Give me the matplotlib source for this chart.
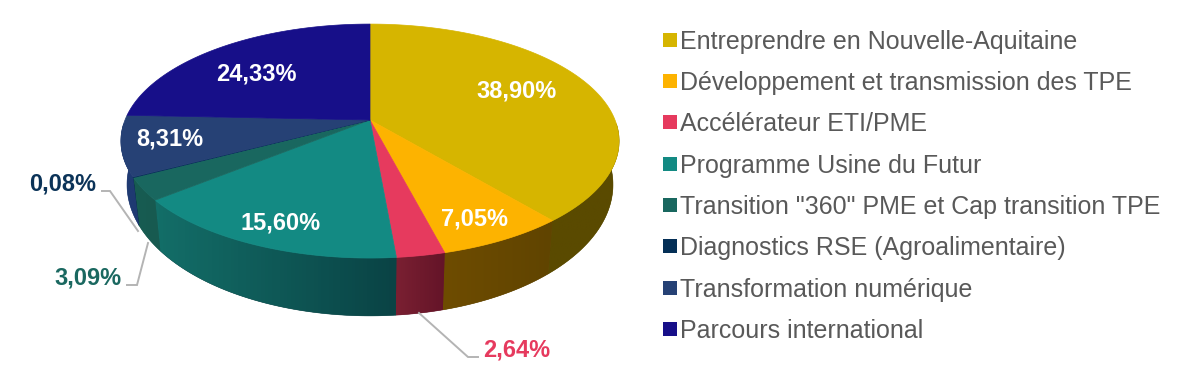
import numpy as np
import matplotlib
matplotlib.use('Agg')
import matplotlib.pyplot as plt
from matplotlib.colors import LinearSegmentedColormap
from matplotlib.lines import Line2D

# Data
categories = ['Entreprendre en Nouvelle-Aquitaine', 'Développement et transmission des TPE',
              'Accélérateur ETI/PME', 'Programme Usine du Futur',
              'Transition "360" PME et Cap transition TPE', 'Diagnostics RSE (Agroalimentaire)',
              'Transformation numérique', 'Parcours international']
values = [38.90, 7.05, 2.64, 15.60, 3.09, 0.08, 8.31, 24.33]
value_labels = ['38,90%', '7,05%', '2,64%', '15,60%', '3,09%', '0,08%', '8,31%', '24,33%']

colors = ['#D6B500', '#FDB300', '#E63A5E', '#138A83', '#19675F', '#042F56', '#264175', '#170F89']
wall_start = ['#5A4A00', '#604400', '#641428', '#0A4345', '#175A50', '#06284A', '#1F3A72', '#170F89']
wall_end = ['#5A4A00', '#6E4C00', '#7A2032', '#136E68', '#185C52', '#06284A', '#1F3A72', '#170F89']
label_colors = ['white', 'white', '#E63A5E', 'white', '#1A6860', '#0B3358', 'white', 'white']
label_pos = [(517, 91), (474, 219), (517, 350), (281, 223), (88, 278), (63, 184), (170, 139), (256, 74)]

# Leader lines for the small slices
leaders = [([478, 468, 419], [357, 357, 313]),
           ([127, 137, 148], [285, 285, 243]),
           ([102, 110, 138], [191, 191, 231])]

# Perspective of the pie, in pixels
CX = 370
TILT = 0.18


def top_rim(deg):
    a = np.radians(deg)
    w = 1 + TILT * np.cos(a)
    return CX + 245 * np.sin(a) / w, 120 - 113.2 * np.cos(a) / w


def bottom_rim(deg):
    a = np.radians(deg)
    w = 1 + TILT * np.cos(a)
    return CX + 239 * np.sin(a) / w, 161 - 127 * np.cos(a) / w


plt.rcParams['font.family'] = ['Liberation Sans', 'DejaVu Sans']
fig = plt.figure(figsize=(11.82, 3.92), dpi=100)
ax = fig.add_axes([0, 0, 1, 1])

edges = np.concatenate([[0], np.cumsum(values)]) * 3.6

# Side walls first (only the part of the rim facing us), shaded left to right
for i in range(len(values)):
    a0 = max(edges[i], 92)
    a1 = min(edges[i + 1], 268)
    if a1 <= a0:
        continue
    arc = np.linspace(a0, a1, max(3, int(a1 - a0) * 2))
    xt, yt = top_rim(arc)
    xb, yb = bottom_rim(arc)
    poly, = ax.fill(np.r_[xt, xb[::-1]], np.r_[yt, yb[::-1]], color=wall_start[i], lw=0.4, zorder=2)
    xs = np.r_[xt, xb]
    ys = np.r_[yt, yb]
    # rim runs right to left here, so the start colour sits on the right
    cmap = LinearSegmentedColormap.from_list('wall', [wall_end[i], wall_start[i]])
    im = ax.imshow(np.linspace(0, 1, 64).reshape(1, -1), cmap=cmap, aspect='auto', zorder=2.1,
                   extent=(xs.min(), xs.max(), ys.max(), ys.min()))
    im.set_clip_path(poly)

ax.set_xlim(0, 1182)
ax.set_ylim(392, 0)
ax.axis('off')

# Top face
for i in range(len(values)):
    arc = np.linspace(edges[i], edges[i + 1], max(3, int(edges[i + 1] - edges[i]) * 2))
    x, y = top_rim(arc)
    ax.fill(np.r_[CX, x], np.r_[120, y], color=colors[i], lw=0.5, zorder=3)

for lx, ly in leaders:
    ax.plot(lx, ly, color='#B4B4B4', lw=1.4, zorder=4, solid_joinstyle='miter')

for txt, c, (px, py) in zip(value_labels, label_colors, label_pos):
    ax.text(px, py, txt, color=c, fontsize=17, fontweight='bold', ha='center', va='center', zorder=5)

handles = [Line2D([], [], ls='none', marker='s', ms=9.4, mfc=c, mec=c, mew=0) for c in colors]
ax.legend(handles, categories, loc='upper left', bbox_to_anchor=(659.5 / 1182, 1 - 29.5 / 392),
          frameon=False, fontsize=18.04, labelcolor='#595959', labelspacing=0.692,
          handlelength=0.838, handletextpad=0, borderpad=0, borderaxespad=0)

fig.savefig('out.png', dpi=100)
